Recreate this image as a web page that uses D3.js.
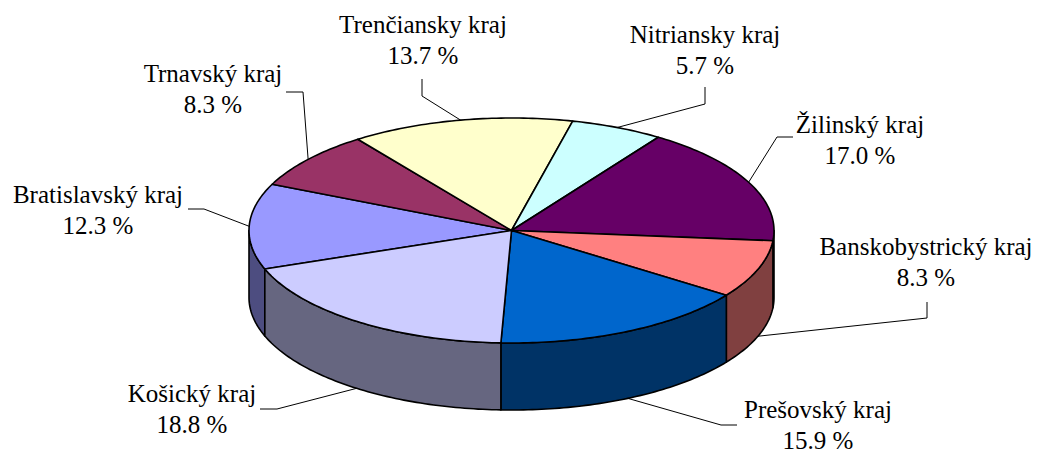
<!DOCTYPE html>
<html>
<head>
<meta charset="utf-8">
<script src="https://cdn.jsdelivr.net/npm/d3@7"></script>
<style>
  html, body { margin: 0; padding: 0; background: #fff; }
  svg { display: block; }
</style>
</head>
<body>
<div id="chart"></div>
<script>
// Data (order as in the source table, drawn clockwise)
const regions = ["Bratislavský kraj", "Trnavský kraj", "Trenčiansky kraj", "Nitriansky kraj",
                 "Žilinský kraj", "Banskobystrický kraj", "Prešovský kraj", "Košický kraj"];
const shares = [12.3, 8.3, 13.7, 5.7, 17.0, 8.3, 15.9, 18.8];
const topColors = ["#9999FF", "#993366", "#FFFFCC", "#CCFFFF", "#660066", "#FF8080", "#0066CC", "#CCCCFF"];

// Layout of labels: text centre / first baseline, and leader elbow + end
const labelLayout = [
  { x: 98,  y: 203, elbow: [204, 209], end: [188, 209] },
  { x: 213, y: 82,  elbow: [303, 92],  end: [286, 92] },
  { x: 423, y: 33,  elbow: [422, 96],  end: [422, 79] },
  { x: 705, y: 43,  elbow: [705, 104], end: [705, 87] },
  { x: 860, y: 133, elbow: [777, 137], end: [793, 137] },
  { x: 926, y: 255, elbow: [927, 318], end: [927, 302] },
  { x: 818, y: 418, elbow: [721, 425], end: [737, 425] },
  { x: 192, y: 402, elbow: [277, 409], end: [260, 409] }
];

const width = 1044, height = 453;
const cx = 511.5, cy = 230.5, rx = 262.5, ry = 112.5, depth = 67;
const startDeg = 250;
const labelFont = "'Liberation Serif', 'DejaVu Serif', Tinos, 'Times New Roman', serif";

const svg = d3.select("#chart").append("svg")
  .attr("width", width).attr("height", height);

const color = d3.scaleOrdinal().domain(regions).range(topColors);
const sideColor = name => {
  const c = d3.rgb(color(name));
  return d3.rgb(c.r * 0.5, c.g * 0.5, c.b * 0.5).formatHex();
};

// angle scale: cumulative share -> degrees clockwise from 12 o'clock
const total = d3.sum(shares);
const angle = d3.scaleLinear().domain([0, total]).range([startDeg, startDeg + 360]);
const cum = d3.cumsum(shares);
const slices = regions.map((name, i) => ({
  name, value: shares[i],
  a0: angle(i === 0 ? 0 : cum[i - 1]),
  a1: angle(cum[i])
}));

const pt = (deg, dz = 0) => {
  const r = deg * Math.PI / 180;
  return [cx + rx * Math.sin(r), cy - ry * Math.cos(r) + dz];
};
const arcPts = (a, b, dz = 0) => {
  const n = Math.max(2, Math.ceil(Math.abs(b - a)));
  return d3.range(n + 1).map(k => pt(a + (b - a) * k / n, dz));
};
const line = d3.line().curve(d3.curveLinear);

// side walls: visible where parametric angle lies in [90, 270] (mod 360)
const sideG = svg.append("g");
slices.forEach(s => {
  [[90, 270], [450, 630]].forEach(([lo, hi]) => {
    const a = Math.max(s.a0, lo), b = Math.min(s.a1, hi);
    if (b - a <= 0.01) return;
    const pts = arcPts(a, b).concat(arcPts(b, a, depth));
    sideG.append("path")
      .attr("d", line(pts) + "Z")
      .attr("fill", sideColor(s.name))
      .attr("stroke", "#000")
      .attr("stroke-width", 1.6)
      .attr("stroke-linejoin", "round");
  });
});

// top faces
const topG = svg.append("g");
slices.forEach(s => {
  const pts = [[cx, cy]].concat(arcPts(s.a0, s.a1));
  topG.append("path")
    .attr("d", line(pts) + "Z")
    .attr("fill", color(s.name))
    .attr("stroke", "#000")
    .attr("stroke-width", 1.6)
    .attr("stroke-linejoin", "round");
});

// labels with leader lines
const lblG = svg.append("g");
slices.forEach((s, i) => {
  const L = labelLayout[i];
  const mid = (s.a0 + s.a1) / 2;
  const m = ((mid % 360) + 360) % 360;
  const anchor = (m > 90 && m < 270) ? pt(mid, depth) : pt(mid);
  lblG.append("path")
    .attr("d", line([anchor, L.elbow, L.end]))
    .attr("fill", "none")
    .attr("stroke", "#000")
    .attr("stroke-width", 1);
  const t = lblG.append("text")
    .attr("text-anchor", "middle")
    .attr("font-family", labelFont)
    .attr("font-size", 25)
    .attr("fill", "#000");
  t.append("tspan").attr("x", L.x).attr("y", L.y).text(s.name);
  t.append("tspan").attr("x", L.x).attr("y", L.y + 31).text(d3.format(".1f")(s.value) + " %");
});
</script>
</body>
</html>
